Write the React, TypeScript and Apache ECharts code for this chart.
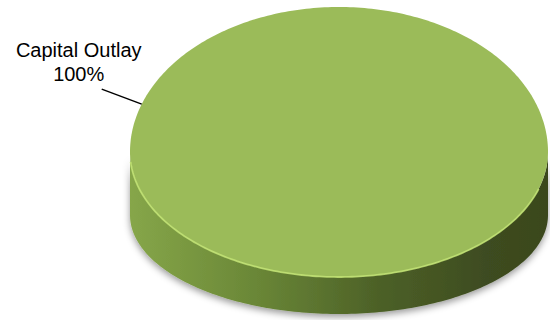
import React, { useEffect, useRef } from "react";
import * as echarts from "echarts";

const categories = ["Capital Outlay"];
const values = [100];

export default function App() {
  const ref = useRef<HTMLDivElement>(null);
  useEffect(() => {
    const chart = echarts.init(ref.current!, null, { renderer: "svg" });
    const total = values.reduce((a, b) => a + b, 0);
    // perspective top face (back half taller than front half) and bottom rim
    const CX = 339, CY = 152, RX = 209, RYU = 145, RYD = 125;
    const BCY = 215, BRX = 209, BRY = 99;
    const pt = (t: number) => {
      const s = Math.sin(t);
      return [CX + RX * Math.cos(t), CY + (s < 0 ? RYU : RYD) * s];
    };
    const bpt = (t: number) => [CX + BRX * Math.cos(t), BCY + BRY * Math.sin(t)];
    const arc = (f: (t: number) => number[], a0: number, a1: number, n = 160) => {
      const out: number[][] = [];
      for (let i = 0; i <= n; i++) out.push(f(a0 + ((a1 - a0) * i) / n));
      return out;
    };
    chart.setOption({
      animation: false,
      series: [
        {
          type: "custom",
          coordinateSystem: "none",
          data: categories.map((name, i) => ({ name, value: values[i] })),
          renderItem: (params: any, api: any) => {
            const idx = params.dataIndex;
            const v = api.value(0);
            const before = values.slice(0, idx).reduce((a, b) => a + b, 0);
            const frac = v / total;
            const a0 = -Math.PI / 2 + (before / total) * Math.PI * 2;
            const a1 = a0 + frac * Math.PI * 2;
            const full = frac >= 0.9999;
            const s0 = full ? 0 : Math.max(0, a0);
            const s1 = full ? Math.PI : Math.min(Math.PI, a1);
            const children: any[] = [];
            if (s1 > s0) {
              const top = arc(pt, s0, s1);
              const bottom = arc(bpt, s1, s0);
              children.push({
                type: "polygon",
                shape: { points: top.concat(bottom) },
                style: {
                  fill: new echarts.graphic.LinearGradient(0, 0, 1, 0, [
                    { offset: 0, color: "#86a649" },
                    { offset: 0.3, color: "#6a8737" },
                    { offset: 0.6, color: "#4c6027" },
                    { offset: 0.85, color: "#3e4c20" },
                    { offset: 1, color: "#3a471d" },
                  ]),
                  shadowBlur: 7,
                  shadowColor: "rgba(0,0,0,0.4)",
                  shadowOffsetY: 3,
                },
              });
            }
            const facePts = full ? arc(pt, 0, Math.PI * 2, 360) : [[CX, CY]].concat(arc(pt, a0, a1, 240));
            children.push({
              type: "polygon",
              shape: { points: facePts },
              style: { fill: "#9bbb59" },
            });
            children.push({
              type: "polyline",
              shape: { points: arc(pt, 0.3, Math.PI - 0.08) },
              style: { stroke: "#c2e374", lineWidth: 1.8, fill: null, opacity: 0.85 },
            });
            // label with leader line
            const la = Math.atan2(-0.33, -0.944);
            const e = pt(la);
            const s = [e[0] - 40, e[1] - 15];
            children.push({
              type: "line",
              shape: { x1: s[0], y1: s[1], x2: e[0], y2: e[1] },
              style: { stroke: "#000", lineWidth: 1.5 },
            });
            const pct = Math.round(frac * 100) + "%";
            children.push({
              type: "text",
              style: {
                text: categories[idx] + "\n" + pct,
                x: s[0] - 23,
                y: s[1] - 27,
                align: "center",
                verticalAlign: "middle",
                fontSize: 20,
                lineHeight: 24,
                fontFamily: "Liberation Sans, Arial, sans-serif",
                fill: "#000",
              },
            });
            return { type: "group", children };
          },
        },
      ],
    });
    return () => chart.dispose();
  }, []);
  return (
    <div
      ref={ref}
      style={{ position: "fixed", left: 0, top: 0, width: 550, height: 320, background: "#fff" }}
    />
  );
}
